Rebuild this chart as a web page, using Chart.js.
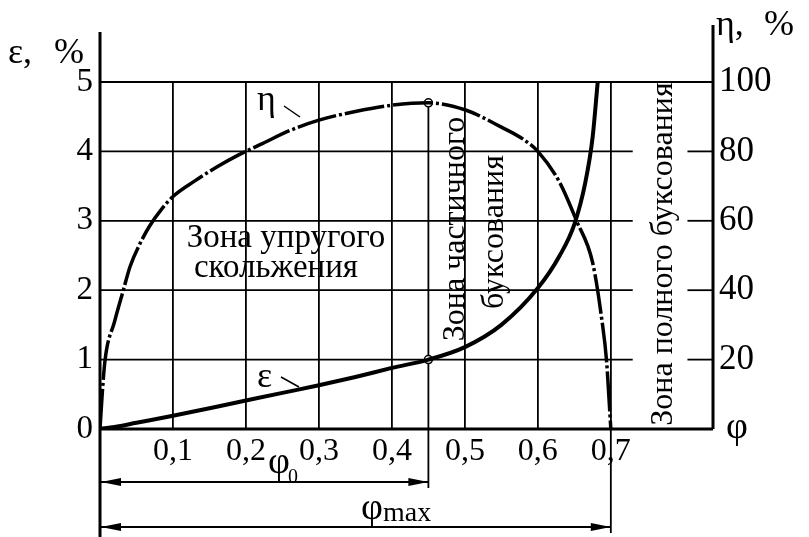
<!DOCTYPE html>
<html>
<head>
<meta charset="utf-8">
<script src="https://cdn.jsdelivr.net/npm/chart.js@4.4.1/dist/chart.umd.min.js"></script>
<style>
  html, body { margin: 0; padding: 0; background: #fff; }
  canvas { display: block; }
</style>
</head>
<body>
<canvas id="chart" width="809" height="537"></canvas>
<script>
// данные
const phiEps = [0, 0.02, 0.05, 0.1, 0.15, 0.2, 0.25, 0.3, 0.35, 0.4, 0.45, 0.5, 0.55, 0.6, 0.63, 0.65, 0.665, 0.675, 0.682];
const epsVals = [0, 0.03, 0.09, 0.19, 0.3, 0.41, 0.52, 0.63, 0.75, 0.88, 1.0, 1.18, 1.5, 2.03, 2.5, 2.95, 3.55, 4.2, 5.0];

const phiEta = [0, 0.003, 0.007, 0.02, 0.032, 0.041, 0.055, 0.068, 0.085, 0.1, 0.13, 0.16, 0.19, 0.22, 0.26, 0.3, 0.35, 0.4, 0.45, 0.5, 0.55, 0.58, 0.6, 0.63, 0.653, 0.675, 0.688, 0.694, 0.7];
const etaVals = [0, 10, 20, 31, 40, 46.7, 53.5, 58.5, 63.5, 67, 71.5, 75.5, 79, 82, 86, 89, 91.5, 93.3, 94, 92, 87, 83.5, 80, 71, 60, 48, 31, 20, 0];

const xTicks = [0, 0.1, 0.2, 0.3, 0.4, 0.5, 0.6, 0.7];
const xTickLabels = ['', '0,1', '0,2', '0,3', '0,4', '0,5', '0,6', '0,7'];
const epsTicks = [0, 1, 2, 3, 4, 5];
const etaTicks = [0, 20, 40, 60, 80, 100];

const phi0 = 0.45;
const phiMax = 0.7;
const etaAtPhi0 = 94;
const epsAtPhi0 = 1.0;

const serif = "'Liberation Serif', 'Times New Roman', serif";

// линии сетки, оси, стрелки и подписи поверх области графика
const decor = {
  id: 'decor',
  beforeDatasetsDraw(chart) {
    const { ctx, scales: { x, y, y1 } } = chart;
    ctx.save();
    ctx.strokeStyle = '#000';
    ctx.lineCap = 'butt';

    // горизонтальные линии сетки
    ctx.lineWidth = 1.8;
    for (let v = 1; v <= 4; v++) {
      const py = y.getPixelForValue(v);
      ctx.beginPath();
      ctx.moveTo(x.getPixelForValue(0), py);
      ctx.lineTo(x.getPixelForValue(0.73), py);
      ctx.stroke();
      ctx.beginPath();
      ctx.moveTo(x.getPixelForValue(0.805), py);
      ctx.lineTo(x.right, py);
      ctx.stroke();
    }
    ctx.lineWidth = 2;
    ctx.beginPath();
    ctx.moveTo(x.left, y.getPixelForValue(5));
    ctx.lineTo(x.right, y.getPixelForValue(5));
    ctx.stroke();

    // вертикали φ0 и φmax
    ctx.lineWidth = 1.8;
    const p0 = x.getPixelForValue(phi0);
    ctx.beginPath();
    ctx.moveTo(p0, y1.getPixelForValue(etaAtPhi0));
    ctx.lineTo(p0, 488);
    ctx.stroke();
    const pm = x.getPixelForValue(phiMax);
    ctx.beginPath();
    ctx.moveTo(pm, y.bottom);
    ctx.lineTo(pm, 533);
    ctx.stroke();

    // оси
    ctx.lineWidth = 3;
    ctx.beginPath();
    ctx.moveTo(x.left, 32);
    ctx.lineTo(x.left, 537);
    ctx.moveTo(x.right, 25);
    ctx.lineTo(x.right, y.bottom);
    ctx.moveTo(x.left, y.bottom);
    ctx.lineTo(x.right, y.bottom);
    ctx.stroke();

    // размерные стрелки
    const arrow = (xa, xb, py) => {
      ctx.lineWidth = 2;
      ctx.beginPath();
      ctx.moveTo(xa, py);
      ctx.lineTo(xb, py);
      ctx.stroke();
      ctx.fillStyle = '#000';
      [[xa, 1], [xb, -1]].forEach(([px, d]) => {
        ctx.beginPath();
        ctx.moveTo(px, py);
        ctx.lineTo(px + d * 20, py - 4);
        ctx.lineTo(px + d * 20, py + 4);
        ctx.closePath();
        ctx.fill();
      });
    };
    arrow(x.left + 1, p0, 482);
    arrow(x.left + 1, pm, 527);

    // выноски к кривым
    ctx.lineWidth = 1.5;
    ctx.beginPath();
    ctx.moveTo(284, 106);
    ctx.lineTo(300, 117);
    ctx.moveTo(281, 377);
    ctx.lineTo(299, 387);
    ctx.stroke();

    // подписи
    ctx.fillStyle = '#000';
    ctx.textBaseline = 'alphabetic';
    ctx.textAlign = 'left';
    ctx.font = '36px ' + serif;
    ctx.fillText('ε,', 8, 63);
    ctx.fillText('%', 54, 63);
    ctx.fillText('η,', 716, 35);
    ctx.fillText('%', 764, 35);
    ctx.fillText('η', 257, 110);
    ctx.fillText('ε', 257, 387);

    ctx.font = '38px ' + serif;
    ctx.fillText('φ', 726, 438);
    ctx.fillText('φ', 268, 473);
    let w = ctx.measureText('φ').width;
    ctx.fillText('φ', 361, 519);
    ctx.font = '20px ' + serif;
    ctx.fillText('0', 268 + w - 2, 483);
    ctx.font = '28px ' + serif;
    ctx.fillText('max', 361 + w, 521);

    ctx.textAlign = 'center';
    ctx.textBaseline = 'middle';
    ctx.font = '33px ' + serif;
    ctx.fillText('Зона упругого', 286, 238);
    ctx.fillText('скольжения', 276, 268);

    ctx.font = '32px ' + serif;
    const vtext = (t, cx, cy) => {
      ctx.save();
      ctx.translate(cx, cy);
      ctx.rotate(-Math.PI / 2);
      ctx.fillText(t, 0, 0);
      ctx.restore();
    };
    vtext('Зона частичного', 456, 229);
    vtext('буксования', 495, 232);
    vtext('Зона полного буксования', 664, 254);

    ctx.restore();
  }
};

const ctx = document.getElementById('chart').getContext('2d');
const chart = new Chart(ctx, {
  type: 'line',
  data: {
    datasets: [
      {
        label: 'η',
        yAxisID: 'y1',
        data: phiEta.map((p, i) => ({ x: p, y: etaVals[i] })),
        borderColor: '#000',
        borderWidth: 3.5,
        borderDash: [40, 3, 3, 3],
        pointRadius: 0,
        cubicInterpolationMode: 'monotone'
      },
      {
        label: 'ε',
        yAxisID: 'y',
        data: phiEps.map((p, i) => ({ x: p, y: epsVals[i] })),
        borderColor: '#000',
        borderWidth: 4,
        pointRadius: 0,
        cubicInterpolationMode: 'monotone'
      },
      {
        label: 'η(φ0)',
        yAxisID: 'y1',
        data: [{ x: phi0, y: etaAtPhi0 }],
        showLine: false,
        pointRadius: 4,
        pointBorderWidth: 1.5,
        pointBackgroundColor: '#fff',
        pointBorderColor: '#000'
      },
      {
        label: 'ε(φ0)',
        yAxisID: 'y',
        data: [{ x: phi0, y: epsAtPhi0 }],
        showLine: false,
        pointRadius: 4,
        pointBorderWidth: 1.5,
        pointBackgroundColor: '#fff',
        pointBorderColor: '#000'
      }
    ]
  },
  options: {
    responsive: false,
    animation: false,
    devicePixelRatio: 1,
    layout: { padding: { top: 82, left: 0, right: 0, bottom: 0 } },
    plugins: {
      legend: { display: false },
      tooltip: { enabled: false }
    },
    scales: {
      x: {
        type: 'linear',
        min: 0,
        max: 0.84,
        afterFit: s => { s.height = 108; },
        afterBuildTicks: s => { s.ticks = xTicks.map(v => ({ value: v })); },
        ticks: {
          autoSkip: false,
          maxRotation: 0,
          padding: 3,
          color: '#000',
          font: { family: serif, size: 32 },
          callback: (v, i) => xTickLabels[i]
        },
        grid: { color: '#000', lineWidth: 1.8, drawTicks: false },
        border: { display: false }
      },
      y: {
        position: 'left',
        min: 0,
        max: 5,
        afterFit: s => { s.width = 100; },
        afterBuildTicks: s => { s.ticks = epsTicks.map(v => ({ value: v })); },
        ticks: {
          padding: 7,
          color: '#000',
          font: { family: serif, size: 33 }
        },
        grid: { display: false, drawTicks: false },
        border: { display: false }
      },
      y1: {
        position: 'right',
        min: 0,
        max: 100,
        afterFit: s => { s.width = 96; },
        afterBuildTicks: s => { s.ticks = etaTicks.map(v => ({ value: v })); },
        ticks: {
          padding: 6,
          color: '#000',
          font: { family: serif, size: 35 },
          callback: v => (v === 0 ? '' : String(v))
        },
        grid: { display: false, drawTicks: false },
        border: { display: false }
      }
    }
  },
  plugins: [decor]
});
</script>
</body>
</html>
